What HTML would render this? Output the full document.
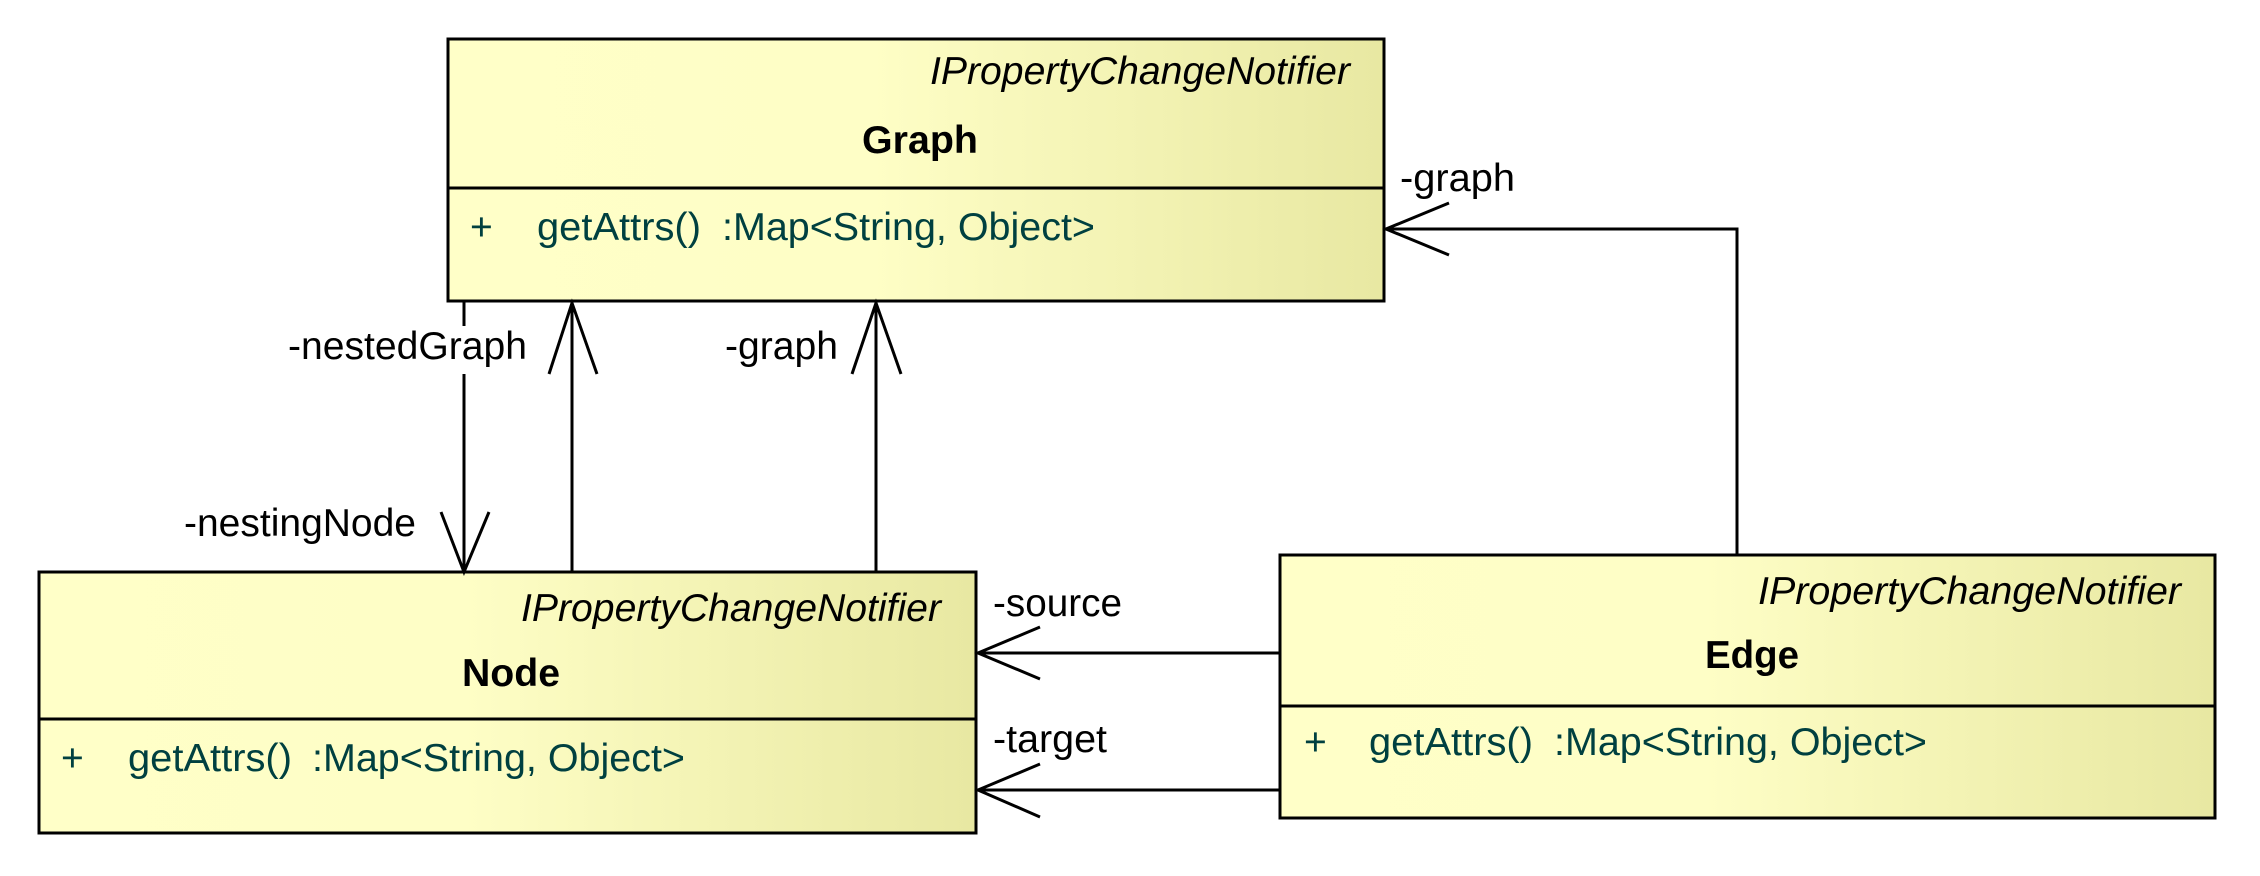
<!DOCTYPE html>
<html><head><meta charset="utf-8"><style>
html,body{margin:0;padding:0;background:#fff;}
svg{display:block;}
text{font-family:"Liberation Sans Narrow","Liberation Sans",sans-serif;font-size:39px;}
.st{font-style:italic;fill:#000;}
.nm{font-weight:bold;fill:#000;}
.m{fill:#004040;}
.l{fill:#000;}
</style></head><body>
<svg width="2260" height="876" viewBox="0 0 2260 876" xmlns="http://www.w3.org/2000/svg">
<defs>
<linearGradient id="g" x1="0" y1="0" x2="1" y2="0">
<stop offset="0" stop-color="#ffffc8"/>
<stop offset="0.45" stop-color="#fefec6"/>
<stop offset="1" stop-color="#e8e8a2"/>
</linearGradient>
</defs>
<g stroke="#000" stroke-width="3">
<rect x="448" y="39" width="936" height="262" fill="url(#g)"/>
<line x1="448" y1="188" x2="1384" y2="188"/>
<rect x="39" y="572" width="937" height="261" fill="url(#g)"/>
<line x1="39" y1="719" x2="976" y2="719"/>
<rect x="1280" y="555" width="935" height="263" fill="url(#g)"/>
<line x1="1280" y1="706" x2="2215" y2="706"/>
</g>
<text x="1350" y="84" text-anchor="end" textLength="420" lengthAdjust="spacingAndGlyphs" class="st">IPropertyChangeNotifier</text>
<text x="941" y="621" text-anchor="end" textLength="420" lengthAdjust="spacingAndGlyphs" class="st">IPropertyChangeNotifier</text>
<text x="2181" y="604" text-anchor="end" textLength="423" lengthAdjust="spacingAndGlyphs" class="st">IPropertyChangeNotifier</text>
<text x="862" y="153" textLength="116" lengthAdjust="spacingAndGlyphs" class="nm">Graph</text>
<text x="462" y="686" textLength="98" lengthAdjust="spacingAndGlyphs" class="nm">Node</text>
<text x="1705" y="668" textLength="94" lengthAdjust="spacingAndGlyphs" class="nm">Edge</text>
<text x="470" y="240" class="m">+</text>
<text x="537" y="240" textLength="164" lengthAdjust="spacingAndGlyphs" class="m">getAttrs()</text>
<text x="722" y="240" textLength="373" lengthAdjust="spacingAndGlyphs" class="m">:Map&lt;String, Object&gt;</text>
<text x="61" y="771" class="m">+</text>
<text x="128" y="771" textLength="164" lengthAdjust="spacingAndGlyphs" class="m">getAttrs()</text>
<text x="312" y="771" textLength="373" lengthAdjust="spacingAndGlyphs" class="m">:Map&lt;String, Object&gt;</text>
<text x="1304" y="755" class="m">+</text>
<text x="1369" y="755" textLength="164" lengthAdjust="spacingAndGlyphs" class="m">getAttrs()</text>
<text x="1554" y="755" textLength="373" lengthAdjust="spacingAndGlyphs" class="m">:Map&lt;String, Object&gt;</text>
<g stroke="#000" stroke-width="3" fill="none">
<line x1="464" y1="301" x2="464" y2="326"/>
<line x1="464" y1="374" x2="464" y2="572"/>
<polyline points="441,512 464,572 489,512"/>
<line x1="572" y1="572" x2="572" y2="303"/>
<polyline points="549,374 572,303 597,374"/>
<line x1="876" y1="572" x2="876" y2="303"/>
<polyline points="852,374 876,303 901,374"/>
<polyline points="1737,555 1737,229 1386,229"/>
<polyline points="1449,203 1386,229 1449,255"/>
<line x1="1280" y1="653" x2="978" y2="653"/>
<polyline points="1040,627 978,653 1040,679"/>
<line x1="1280" y1="790" x2="978" y2="790"/>
<polyline points="1040,764 978,790 1040,817"/>
</g>
<text x="288" y="359" textLength="239" lengthAdjust="spacingAndGlyphs" class="l">-nestedGraph</text>
<text x="725" y="359" textLength="113" lengthAdjust="spacingAndGlyphs" class="l">-graph</text>
<text x="184" y="536" textLength="232" lengthAdjust="spacingAndGlyphs" class="l">-nestingNode</text>
<text x="993" y="616" textLength="129" lengthAdjust="spacingAndGlyphs" class="l">-source</text>
<text x="993" y="752" textLength="114" lengthAdjust="spacingAndGlyphs" class="l">-target</text>
<text x="1400" y="191" textLength="115" lengthAdjust="spacingAndGlyphs" class="l">-graph</text>
</svg>
</body></html>
